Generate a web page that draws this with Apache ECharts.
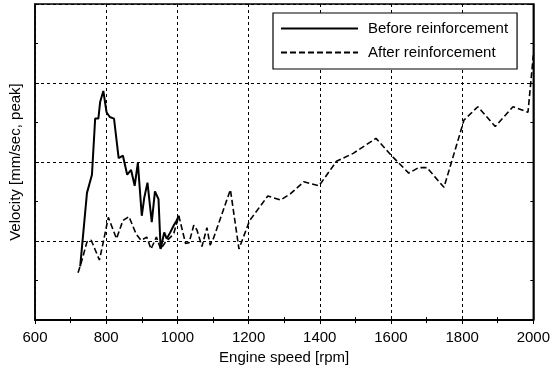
<!DOCTYPE html>
<html>
<head>
<meta charset="utf-8">
<script src="https://cdn.jsdelivr.net/npm/echarts@6/dist/echarts.min.js"></script>
<style>html,body{margin:0;padding:0;background:#fff;}#c{width:553px;height:370px;}</style>
</head>
<body>
<div id="c"></div>
<script>
// Before reinforcement: [rpm, velocity]
const beforeRpm = [727, 746, 760, 769, 778, 783, 792, 801, 810, 822, 835, 847, 859, 870, 880, 889, 900, 907, 916, 928, 937, 947, 953, 963, 970, 980, 990, 998, 1004];
const beforeVel = [0.68, 1.61, 1.84, 2.55, 2.55, 2.76, 2.90, 2.63, 2.57, 2.55, 2.05, 2.08, 1.84, 1.90, 1.70, 1.99, 1.32, 1.55, 1.74, 1.24, 1.63, 1.53, 0.90, 1.11, 1.03, 1.11, 1.20, 1.26, 1.32];
// After reinforcement
const afterRpm = [721, 732, 746, 758, 781, 792, 806, 829, 847, 864, 884, 898, 914, 926, 941, 953, 967, 981, 990, 1004, 1023, 1033, 1046, 1055, 1069, 1083, 1092, 1101, 1149, 1173, 1203, 1254, 1290, 1318, 1355, 1398, 1447, 1494, 1558, 1604, 1650, 1678, 1701, 1749, 1794, 1805, 1844, 1893, 1943, 1985, 2000];
const afterVel = [0.60, 0.76, 0.99, 1.01, 0.76, 0.99, 1.30, 1.03, 1.26, 1.31, 1.09, 1.01, 1.05, 0.90, 1.05, 0.90, 0.99, 1.05, 1.10, 1.32, 0.97, 0.98, 1.20, 1.14, 0.93, 1.17, 0.95, 1.03, 1.65, 0.90, 1.26, 1.57, 1.52, 1.60, 1.75, 1.70, 2.01, 2.11, 2.30, 2.07, 1.86, 1.93, 1.93, 1.68, 2.36, 2.53, 2.70, 2.45, 2.70, 2.63, 3.35];
const xTicks = [600, 800, 1000, 1200, 1400, 1600, 1800, 2000];

const pair = (xs, ys) => xs.map((x, i) => [x, ys[i]]);
const font = 'Liberation Sans, Arial, sans-serif';
const chart = echarts.init(document.getElementById('c'), null, {renderer: 'canvas'});
const axisLine = {show: true, lineStyle: {color: '#000', width: 1.5}};
const grid = {type: [3, 3], color: '#000', width: 1};
chart.setOption({
  animation: false,
  backgroundColor: '#fff',
  grid: {left: 29, right: 17, top: 4, bottom: 46, show: true, borderColor: '#000', borderWidth: 1.5},
  legend: {
    left: 273, top: 13, orient: 'vertical',
    itemWidth: 77, itemHeight: 14, itemGap: 9,
    padding: [8, 9, 9, 7],
    borderColor: '#000', borderWidth: 1.2, backgroundColor: '#fff',
    itemStyle: {color: 'rgba(0,0,0,0)', borderColor: 'rgba(0,0,0,0)', borderWidth: 0},
    textStyle: {fontFamily: font, fontSize: 15, color: '#000', padding: [0, 0, 0, 5]},
    data: ['Before reinforcement', 'After reinforcement']
  },
  xAxis: [{
    type: 'value', min: 600, max: 2000, interval: 200,
    axisLine: axisLine,
    axisTick: {inside: true, length: 4, lineStyle: {color: '#000'}},
    minorTick: {show: true, splitNumber: 2, length: 3, lineStyle: {color: '#000'}},
    splitLine: {show: true, lineStyle: grid},
    axisLabel: {fontFamily: font, fontSize: 15, color: '#000', margin: 10,
      formatter: v => xTicks.includes(v) ? String(v) : ''},
    name: 'Engine speed [rpm]', nameLocation: 'middle', nameGap: 28,
    nameTextStyle: {fontFamily: font, fontSize: 15, color: '#000'}
  }, {
    type: 'value', min: 600, max: 2000, interval: 200, position: 'top',
    axisLine: axisLine, axisLabel: {show: false}, splitLine: {show: false},
    axisTick: {inside: true, length: 4, lineStyle: {color: '#000'}},
    minorTick: {show: true, splitNumber: 2, length: 3, lineStyle: {color: '#000'}}
  }],
  yAxis: [{
    type: 'value', min: 0, max: 4, interval: 1,
    axisLine: axisLine,
    axisTick: {inside: true, length: 4, lineStyle: {color: '#000'}},
    minorTick: {show: true, splitNumber: 2, length: 3, lineStyle: {color: '#000'}},
    splitLine: {show: true, lineStyle: grid},
    axisLabel: {show: false},
    name: 'Velocity [mm/sec, peak]', nameLocation: 'middle', nameGap: 12,
    nameTextStyle: {fontFamily: font, fontSize: 15, color: '#000'}
  }, {
    type: 'value', min: 0, max: 4, interval: 1, position: 'right',
    axisLine: axisLine, axisLabel: {show: false}, splitLine: {show: false},
    axisTick: {inside: true, length: 4, lineStyle: {color: '#000'}},
    minorTick: {show: true, splitNumber: 2, length: 3, lineStyle: {color: '#000'}}
  }],
  series: [{
    name: 'Before reinforcement', type: 'line', data: pair(beforeRpm, beforeVel),
    showSymbol: false, symbol: 'none', color: '#000',
    lineStyle: {color: '#000', width: 2}
  }, {
    name: 'After reinforcement', type: 'line', data: pair(afterRpm, afterVel),
    showSymbol: false, symbol: 'none', color: '#000',
    lineStyle: {color: '#000', width: 1.6, type: [6, 3]}
  }]
});
</script>
</body>
</html>
